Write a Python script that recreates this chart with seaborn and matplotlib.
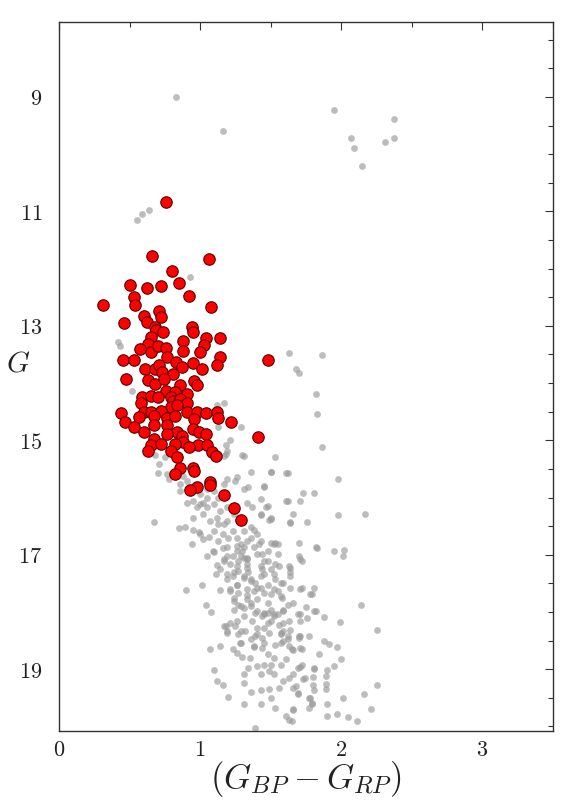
import numpy as np
import pandas as pd
import matplotlib
matplotlib.use("Agg")
import matplotlib.pyplot as plt
import seaborn as sns
from matplotlib.ticker import MultipleLocator, FuncFormatter

# ---- data: field stars (gray) ----
gray_bprp = [
    0.83, 1.16, 1.95, 2.37, 2.07, 2.09, 2.31, 2.37, 2.15, 0.55, 0.59, 0.64, 0.93, 0.59, 0.42, 0.43, 0.52,
    1.12, 1.17, 1.13, 1.29, 1.21, 1.18, 1.19, 1.17, 1.30, 1.12,
    1.63, 1.86, 1.68, 1.70, 1.82, 1.83, 1.86, 1.53, 1.50, 1.61, 1.98, 1.45, 1.73, 1.81, 1.47, 1.61, 1.71,
    2.17, 1.98, 1.43, 1.49, 1.64, 1.76, 1.38, 1.53, 1.70, 1.82,
    1.95, 2.02, 2.01, 1.70, 1.72, 1.72, 1.81, 1.79, 2.14, 1.66, 1.75, 1.81, 1.88, 1.99, 1.71, 1.71, 2.25,
    1.70, 1.77, 1.88, 1.91, 1.97, 1.65, 1.72, 1.84, 2.00, 1.71, 1.81, 1.90, 1.95, 1.74, 1.80, 1.89, 1.68,
    1.80, 1.89, 2.25, 1.69, 1.81, 1.89, 2.16, 2.01, 1.78, 1.79, 1.66, 1.77, 1.90, 2.21, 1.90, 1.97, 2.05,
    2.11, 1.39, 1.65,
    1.07, 1.14, 1.10, 1.12, 1.16, 1.20, 1.31, 1.43, 1.28, 1.23, 1.26, 1.30, 1.35, 1.38, 1.44, 1.44, 1.34,
    1.40, 1.45, 1.43, 1.49, 1.52, 1.31, 1.31, 1.36, 1.43, 1.49, 1.50, 1.53, 1.56, 1.59, 1.63, 1.48, 1.52,
    1.57, 1.61, 1.50, 1.53, 1.59, 1.62, 1.57, 1.63, 1.66, 1.70, 1.71, 1.69, 1.72, 1.66, 1.73, 1.81, 1.66,
    1.69, 1.77, 1.79, 1.61, 1.63, 1.66,
    0.94, 1.01, 0.90, 1.04, 1.08, 1.14, 1.11, 1.12, 1.10, 1.16, 1.19, 1.21, 1.17, 1.19, 1.23, 1.21, 1.24,
    1.26, 1.18, 1.19, 1.21, 1.26, 1.29, 1.26, 1.30, 1.31, 1.26, 1.33, 1.34, 1.31, 1.36, 1.27, 1.31, 1.36,
    1.33, 1.38, 1.40, 1.43, 1.48, 1.45, 1.48, 1.43, 1.50, 1.40, 1.45, 1.48, 1.52, 1.50, 1.45, 1.40, 1.52,
    1.55, 1.53, 1.52, 1.57, 1.55, 1.58, 1.62, 1.59, 1.56, 1.59, 1.63, 1.71, 1.64, 1.64, 1.82, 1.83,
    0.85, 0.89, 0.95, 1.00, 1.09, 1.02, 1.05, 0.95, 1.02, 1.00, 1.05, 1.05, 1.10, 1.12, 1.13, 1.17, 1.19,
    1.16, 1.20, 1.23, 1.26, 1.29, 1.31, 1.33, 1.36, 1.38, 1.42, 1.44, 1.48, 1.29, 1.33, 0.86, 0.91, 0.88,
    1.00, 1.02, 0.95, 1.10, 1.17, 1.19, 1.26, 1.31, 1.33, 1.43, 1.48, 1.37, 1.43, 1.50, 1.62, 1.64, 1.66,
    1.50, 1.55, 1.36, 1.50, 1.62,
    0.67, 0.705, 0.70, 0.765, 0.75, 0.68, 0.99, 1.06, 1.18, 1.31, 1.45, 1.50,
    1.17, 1.25, 1.19, 1.27, 1.32, 1.29, 1.36, 1.39, 1.40, 1.48, 1.49, 1.17, 1.27, 1.33, 1.45, 1.24, 1.31,
    1.36, 1.43, 1.50, 1.56, 1.63, 1.64, 1.21, 1.27, 1.33, 1.40, 1.45, 1.52, 1.57, 1.64, 1.71, 1.78, 1.59,
    1.55, 1.50, 1.45, 1.39, 1.36, 1.29, 1.24, 1.59, 1.57, 1.64, 1.62, 1.71, 1.76, 1.69,
    0.78, 0.86, 0.91, 0.98, 1.07, 1.10, 1.13, 1.19, 1.23, 1.26, 1.14, 1.19, 1.24, 1.29, 1.31, 1.36, 1.40,
    1.43, 1.13, 1.05, 1.25, 1.34,
    1.14, 1.19, 1.24, 1.31, 1.37, 1.44, 1.52, 1.40, 1.48, 1.33, 1.26, 1.39, 1.53, 1.59, 1.44, 1.33, 1.27,
    1.57, 1.45, 1.38,
]
gray_g = [
    9.00, 9.60, 9.23, 9.39, 9.71, 9.90, 9.79, 9.71, 10.20, 11.15, 11.04, 10.98, 12.15, 12.84, 13.29, 13.36, 14.13,
    14.38, 14.35, 14.77, 14.76, 15.00, 15.09, 15.18, 15.27, 15.25, 15.30,
    13.47, 13.51, 13.76, 13.83, 14.19, 14.54, 15.12, 15.29, 15.55, 15.58, 15.68, 15.81, 15.92, 15.92, 16.16, 16.06, 16.06,
    16.29, 16.31, 16.31, 16.39, 16.43, 16.42, 16.57, 16.80, 16.80, 16.86,
    16.93, 16.92, 17.02, 17.03, 17.11, 17.58, 17.58, 17.69, 17.87, 17.85, 17.91, 17.98, 18.09, 18.18, 18.03, 18.16, 18.31,
    18.42, 18.42, 18.50, 18.56, 18.61, 18.64, 18.64, 18.74, 18.83, 18.97, 19.00, 19.02, 18.95, 19.16, 19.14, 19.12, 19.30,
    19.27, 19.26, 19.27, 19.43, 19.37, 19.35, 19.43, 19.51, 19.50, 19.61, 19.69, 19.68, 19.60, 19.69, 19.81, 19.78, 19.84,
    19.91, 20.03, 19.91,
    18.65, 18.60, 19.02, 19.21, 19.28, 19.49, 19.61, 19.61, 18.54, 18.65, 18.71, 18.79, 18.81, 18.61, 18.46, 18.63, 18.98,
    18.95, 18.92, 19.09, 19.03, 19.09, 19.09, 19.24, 19.39, 19.36, 19.34, 19.50, 19.68, 19.33, 19.21, 19.15, 18.74, 18.80,
    18.92, 18.83, 18.92, 18.57, 18.51, 18.42, 18.39, 18.60, 18.66, 18.45, 18.63, 18.98, 18.92, 19.09, 19.18, 18.98, 19.33,
    19.41, 19.50, 19.59, 19.82, 19.88, 19.71,
    16.82, 17.53, 17.62, 17.87, 18.00, 17.62, 17.33, 17.18, 16.96, 16.88, 17.02, 17.17, 17.11, 17.34, 17.37, 17.63, 17.75,
    17.52, 18.25, 18.33, 18.19, 18.16, 18.33, 16.85, 16.93, 17.05, 17.20, 17.17, 17.31, 17.40, 17.46, 17.87, 17.93, 17.84,
    17.70, 17.64, 16.99, 17.20, 17.11, 17.34, 17.52, 17.58, 17.69, 17.98, 18.04, 18.01, 18.04, 18.16, 18.28, 18.39, 16.82,
    16.99, 17.17, 17.34, 17.49, 17.63, 17.75, 17.87, 17.98, 18.22, 18.33, 18.16, 17.08, 17.23, 17.37, 17.98, 16.88,
    16.53, 16.51, 16.57, 16.63, 16.93, 16.73, 17.02, 16.35, 16.29, 16.12, 16.00, 16.17, 16.12, 16.35, 16.47, 16.47, 16.41,
    16.64, 16.70, 16.58, 16.70, 16.82, 16.87, 16.76, 16.70, 16.87, 16.82, 16.99, 16.93, 17.02, 17.05, 15.77, 15.71, 15.62,
    15.94, 16.09, 16.06, 15.88, 15.77, 15.68, 15.65, 15.85, 16.09, 16.03, 16.15, 16.17, 16.29, 16.35, 16.06, 16.44, 16.29,
    16.79, 16.82, 15.56, 15.56, 15.58,
    16.43, 15.42, 15.58, 15.59, 15.30, 15.25, 16.61, 16.69, 15.24, 15.27, 15.79, 16.38,
    18.25, 18.25, 18.36, 18.39, 18.33, 18.54, 18.48, 18.42, 18.28, 18.19, 18.36, 17.08, 17.11, 17.08, 17.11, 17.31, 17.37,
    17.43, 17.37, 17.25, 17.20, 17.20, 17.31, 17.60, 17.66, 17.60, 17.58, 17.66, 17.60, 17.72, 17.58, 17.60, 17.69, 17.96,
    18.04, 17.96, 18.01, 18.01, 17.90, 17.90, 17.81, 18.19, 18.36, 18.31, 18.48, 18.42, 18.10, 18.04,
    15.68, 15.88, 16.09, 16.17, 16.41, 16.58, 16.76, 16.87, 17.02, 16.93, 16.23, 16.17, 16.29, 16.41, 16.58, 16.52, 16.64,
    16.76, 16.00, 15.85, 15.71, 15.82,
    17.25, 17.43, 17.96, 18.07, 18.16, 18.07, 18.07, 17.78, 17.84, 17.78, 17.52, 17.49, 17.43, 17.49, 17.25, 17.23, 17.28,
    18.54, 18.54, 18.60,
]

# ---- data: cluster members (red) ----
red_bprp = [
    0.76, 0.66, 1.06, 0.80, 0.50, 0.62, 0.72, 0.85, 0.92, 0.53, 0.54, 0.31, 1.08, 0.71, 0.72, 0.60, 0.625,
    0.46, 0.68, 0.69, 0.74, 0.94, 0.95, 0.65, 0.88, 1.04, 1.14, 1.03, 0.63, 0.65, 0.575, 0.70, 0.76, 0.875,
    1.00, 0.45, 0.53, 0.765, 0.83, 0.95, 1.14, 1.12, 0.61, 0.68, 0.705, 0.73, 0.87, 1.01, 0.81, 0.475, 0.63,
    0.68, 0.745, 0.955, 0.98, 0.86, 0.76, 0.82, 0.91, 0.59, 0.58, 0.65, 0.70, 0.79, 0.81, 0.86, 0.91, 0.79,
    0.835, 0.44, 0.60, 0.65, 0.72, 0.91, 0.98, 1.04, 1.12, 1.125, 1.22, 0.47, 0.565, 0.675, 0.765, 0.82,
    0.96, 0.53, 0.675, 0.765, 0.60, 0.835, 0.95, 0.99, 1.04, 1.41, 0.765, 0.87, 0.88, 0.67, 0.65, 0.72,
    0.82, 0.985, 1.05, 0.79, 0.835, 0.92, 1.085, 1.11, 1.48, 0.63, 0.855, 0.82, 0.95, 0.96, 0.975, 0.93,
    1.07, 1.07, 1.17, 1.24, 1.29,
]
red_g = [
    10.84, 11.78, 11.84, 12.05, 12.28, 12.33, 12.30, 12.25, 12.48, 12.49, 12.63, 12.64, 12.67, 12.74, 12.85, 12.82, 12.94,
    12.95, 13.02, 13.08, 13.10, 13.02, 13.10, 13.20, 13.27, 13.21, 13.21, 13.34, 13.31, 13.46, 13.40, 13.36, 13.39, 13.44,
    13.46, 13.59, 13.59, 13.55, 13.64, 13.65, 13.55, 13.69, 13.76, 13.75, 13.69, 13.81, 13.72, 13.75, 13.84, 13.93, 13.94,
    14.01, 13.93, 13.96, 14.04, 14.03, 14.13, 14.15, 14.19, 14.25, 14.34, 14.22, 14.25, 14.25, 14.31, 14.28, 14.34, 14.41,
    14.39, 14.52, 14.50, 14.51, 14.48, 14.50, 14.51, 14.53, 14.51, 14.61, 14.68, 14.68, 14.59, 14.58, 14.61, 14.57,
    14.63, 14.77, 14.74, 14.74, 14.86, 14.86, 14.81, 14.86, 14.89, 14.94, 14.89, 14.92, 15.03, 14.98, 15.09, 15.06,
    15.06, 15.08, 15.09, 15.18, 15.29, 15.12, 15.21, 15.27, 13.60, 15.18, 15.49, 15.59, 15.49, 15.54, 15.81, 15.87,
    15.72, 15.78, 15.96, 16.19, 16.40,
]

x_ticks = [0, 1, 2, 3]
y_ticks = [9, 11, 13, 15, 17, 19]

field = pd.DataFrame({"bprp": gray_bprp, "G": gray_g})
members = pd.DataFrame({"bprp": red_bprp, "G": red_g})

sns.set_theme(style="white")
plt.rcParams["mathtext.fontset"] = "cm"
plt.rcParams["font.family"] = ["DejaVu Serif"]

fig = plt.figure(figsize=(5.70, 8.07), dpi=100)
ax = fig.add_axes([59 / 570, 1 - 731 / 807, (553 - 59) / 570, (731 - 22) / 807])

sns.scatterplot(data=field, x="bprp", y="G", ax=ax, color="#9a9a9a", alpha=0.65,
                s=24, linewidth=0, zorder=2)
sns.scatterplot(data=members, x="bprp", y="G", ax=ax, color="#ff0000",
                edgecolor="#5a0000", linewidth=0.8, s=68, zorder=3)

ax.set_xlim(0, 3.5)
ax.set_ylim(20.08, 7.69)

ax.set_xticks(x_ticks)
ax.set_yticks(y_ticks)
ax.xaxis.set_minor_locator(MultipleLocator(0.5))
ax.yaxis.set_minor_locator(MultipleLocator(0.5))
fmt = FuncFormatter(lambda v, p: f"${v:g}$")
ax.xaxis.set_major_formatter(fmt)
ax.yaxis.set_major_formatter(fmt)

ax.tick_params(which="both", direction="in", top=True, right=True,
               colors="#333333", labelcolor="#222222", labelsize=16, width=0.8)
ax.tick_params(which="major", length=6)
ax.tick_params(which="minor", length=3.5)
ax.tick_params(axis="x", pad=6)
ax.tick_params(axis="y", pad=12)

for sp in ax.spines.values():
    sp.set_color("#333333")
    sp.set_linewidth(1.0)

ax.set_xlabel(r"$(G_{BP}-G_{RP})$", fontsize=25, color="#222222")
ax.set_ylabel(r"$G$", fontsize=21, rotation=0, color="#222222")
ax.yaxis.set_label_coords(-0.082, 0.518)
ax.xaxis.set_label_coords(0.5, -0.04)
ax.xaxis.label.set_verticalalignment("top")
ax.yaxis.label.set_verticalalignment("center")
ax.yaxis.label.set_horizontalalignment("center")

fig.savefig("out.png", dpi=100, facecolor="white")
